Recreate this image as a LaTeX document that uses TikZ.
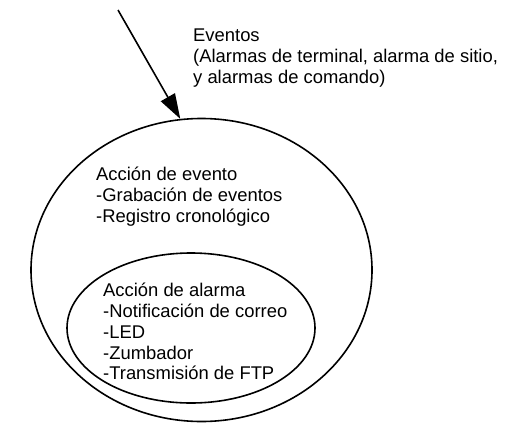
\documentclass[tikz,border=0pt]{standalone}
\usepackage{fontspec}
\setmainfont{Liberation Sans}
\usepackage{tikz}
\usetikzlibrary{arrows.meta,positioning,shapes.geometric}

\begin{document}
\begin{tikzpicture}[
    x=1pt, y=-1pt,
    >={Triangle[length=25pt,width=16pt]},
    ring/.style={draw, ellipse, line width=1.6pt, inner sep=0pt},
    label/.style={anchor=base west, inner sep=0pt, align=left,
                  font=\fontsize{18.4}{20.8}\selectfont},
    arrow/.style={->, line width=1.6pt},
  ]
  \useasboundingbox (0,0) rectangle (526,423);

  \node[ring, minimum width=341pt, minimum height=303pt] (evento) at (201.5,270) {};
  \node[ring, minimum width=248pt, minimum height=150pt] (alarma) at (191,328) {};

  % base anchor sits on the last line
  \node[label] (eventos) at (193,83.3)
    {Eventos\\(Alarmas de terminal, alarma de sitio,\\y alarmas de comando)};
  \node[label] (accevento) at (96,222.3)
    {Acción de evento\\-Grabación de eventos\\-Registro cronológico};
  \node[label] (accalarma) at (103,379.9)
    {Acción de alarma\\-Notificación de correo\\-LED\\-Zumbador\\-Transmisión de FTP};

  \coordinate (origen) at (118,10);
  \draw[arrow] (origen) -- (evento.98);

\end{tikzpicture}
\end{document}
